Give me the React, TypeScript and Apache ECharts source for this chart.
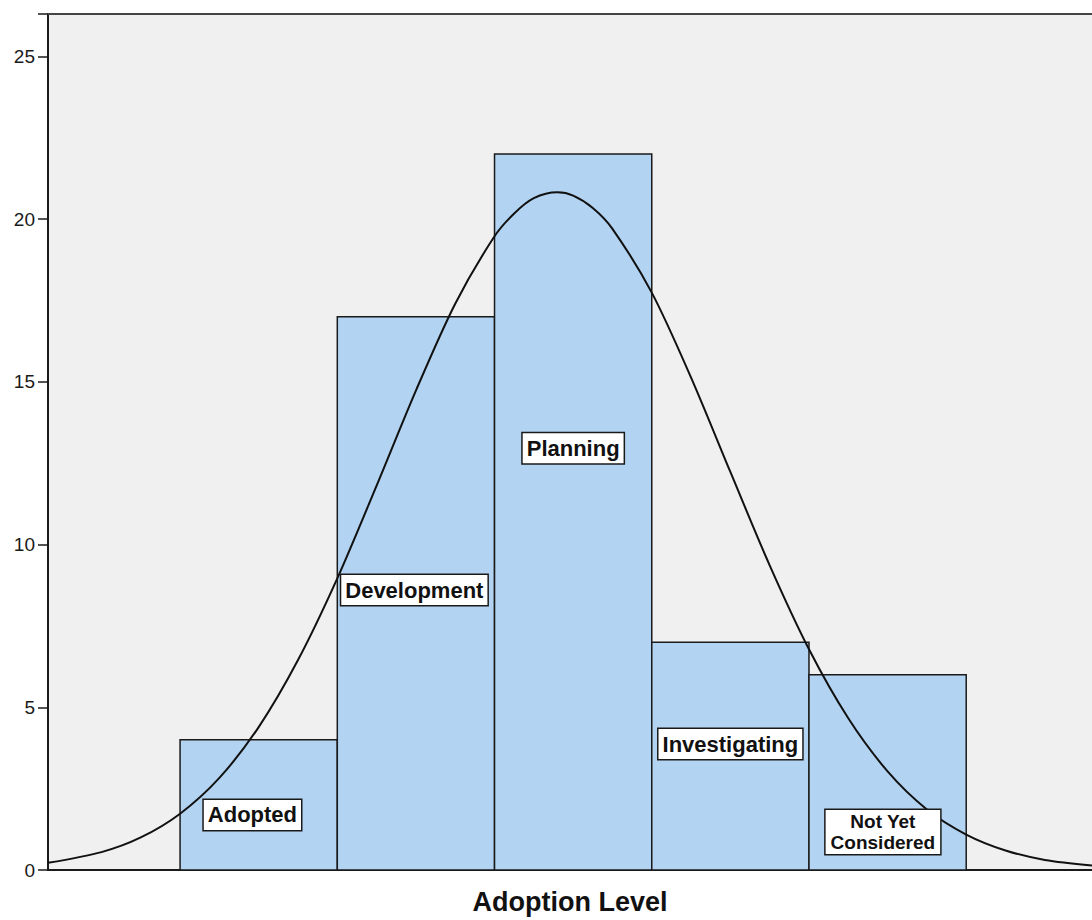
import React, { useEffect, useRef } from "react";
import * as echarts from "echarts";

const categories = ["Adopted", "Development", "Planning", "Investigating", "Not Yet\nConsidered"];
const levels = [1, 2, 3, 4, 5];
const counts = [4, 17, 22, 7, 6];
const yTicks = [0, 5, 10, 15, 20, 25];
const curveX = [-0.34, 0, 0.25, 0.5, 0.75, 1, 1.25, 1.5, 1.75, 2, 2.25, 2.5, 2.625, 2.75, 2.9, 3.0, 3.125, 3.25, 3.5, 3.75, 4, 4.25, 4.5, 4.75, 5, 5.25, 5.5, 5.75, 6, 6.3];
const curveY = [0.22, 0.55, 1.0, 1.73, 2.83, 4.39, 6.45, 8.96, 11.81, 14.73, 17.4, 19.47, 20.17, 20.64, 20.82, 20.72, 20.34, 19.7, 17.74, 15.13, 12.23, 9.36, 6.78, 4.66, 3.03, 1.86, 1.09, 0.6, 0.31, 0.14];
const labelAnchorX = [0.96, 1.99, 3.0, 4.0, 4.97];
const labelAnchorY = [1.69, 8.6, 12.96, 3.87, 1.17];

export default function App() {
  const ref = useRef<HTMLDivElement>(null);
  useEffect(() => {
    if (!ref.current) return;
    const chart = echarts.init(ref.current, undefined, { renderer: "svg" });
    const barData = levels.map((lv, i) => [lv, counts[i]]);
    const labelData = categories.map((c, i) => [labelAnchorX[i], labelAnchorY[i], i]);
    chart.setOption({
      animation: false,
      backgroundColor: "#ffffff",
      grid: {
        left: 48,
        right: 0,
        top: 14,
        bottom: 49,
        show: true,
        backgroundColor: "#f0f0f0",
        borderWidth: 0,
      },
      xAxis: [
        {
          type: "value",
          min: -0.34,
          max: 6.3,
          axisLine: { show: true, onZero: false, lineStyle: { color: "#1a1a1a", width: 2 } },
          axisTick: { show: false },
          axisLabel: { show: false },
          splitLine: { show: false },
          name: "Adoption Level",
          nameLocation: "middle",
          nameGap: 18,
          nameTextStyle: {
            fontFamily: "Liberation Sans",
            fontWeight: "bold",
            fontSize: 27,
            color: "#111",
          },
        },
        {
          type: "value",
          position: "top",
          min: -0.34,
          max: 6.3,
          axisLine: { show: true, onZero: false, lineStyle: { color: "#444", width: 2 } },
          axisTick: { show: false },
          axisLabel: { show: false },
          splitLine: { show: false },
        },
      ],
      yAxis: {
        type: "value",
        min: yTicks[0],
        max: 26.3,
        interval: 5,
        axisLine: { show: true, onZero: false, lineStyle: { color: "#1a1a1a", width: 2 } },
        axisTick: { show: true, length: 10, lineStyle: { color: "#1a1a1a", width: 1.5 } },
        axisLabel: {
          margin: 13,
          fontFamily: "Liberation Sans",
          fontSize: 19,
          color: "#1a1a1a",
          formatter: (v: number) => (yTicks.includes(v) ? String(v) : ""),
        },
        splitLine: { show: false },
      },
      series: [
        {
          type: "custom",
          z: 2,
          data: barData,
          renderItem: (params: any, api: any) => {
            const x = api.value(0);
            const y = api.value(1);
            const p0 = api.coord([x - 0.5, y]);
            const p1 = api.coord([x + 0.5, 0]);
            return {
              type: "rect",
              shape: { x: p0[0], y: p0[1], width: p1[0] - p0[0], height: p1[1] - p0[1] },
              style: { fill: "#b2d3f1", stroke: "#1a1a1a", lineWidth: 1.5 },
            };
          },
        },
        {
          type: "line",
          z: 3,
          smooth: 0.3,
          symbol: "none",
          data: curveX.map((x, i) => [x, curveY[i]]),
          lineStyle: { color: "#111", width: 2 },
        },
        {
          type: "custom",
          z: 4,
          data: labelData,
          renderItem: (params: any, api: any) => {
            const i = api.value(2);
            const p = api.coord([api.value(0), api.value(1)]);
            const text = categories[i];
            const multi = text.includes("\n");
            return {
              type: "text",
              x: p[0],
              y: p[1],
              style: {
                text,
                align: "center",
                verticalAlign: "middle",
                fontFamily: "Liberation Sans",
                fontWeight: "bold",
                fontSize: multi ? 19 : 22,
                lineHeight: multi ? 21 : 24,
                fill: "#111",
                backgroundColor: "#ffffff",
                borderColor: "#1a1a1a",
                borderWidth: 1.5,
                padding: multi ? [1, 5] : [3, 4],
              },
            };
          },
        },
      ],
    });
    return () => chart.dispose();
  }, []);
  return (
    <div
      ref={ref}
      style={{ position: "fixed", left: 0, top: 0, width: 1092, height: 920 }}
    />
  );
}
